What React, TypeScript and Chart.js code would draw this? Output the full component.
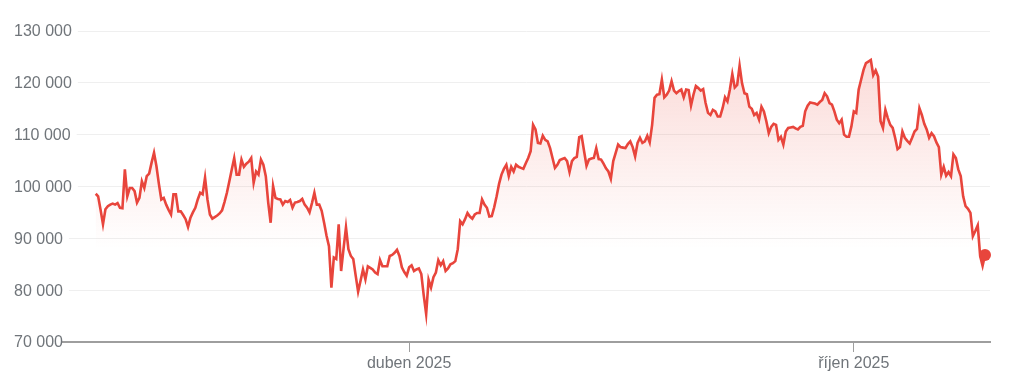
import React, { useEffect, useRef } from "react";
import { Chart, registerables } from "chart.js";

Chart.register(...registerables);

// Daily closing price, thousands of USD (day 0 = 23 Nov 2024)
const nov2024 = [98.6, 98.1, 95.5, 92.7, 95.6, 96.2, 96.5, 96.7];
const dec2024 = [
  96.5, 96.8, 95.9, 95.8, 103.3, 98.1, 99.7, 99.7, 99.1, 96.9, 97.8, 101.0, 99.7, 102.0, 102.5, 104.6,
  106.5, 103.9, 100.5, 97.5, 97.8, 96.5, 95.5, 94.6, 98.5, 98.5, 95.2, 95.2, 94.5, 93.7, 92.2,
];
const jan2025 = [
  94.0, 95.0, 95.9, 97.5, 98.8, 98.5, 101.7, 97.5, 94.6, 93.8, 94.1, 94.4, 94.8, 95.4, 97.0, 98.8,
  101.0, 103.3, 105.5, 102.3, 102.3, 105.2, 103.8, 104.4, 104.8, 105.5, 100.7, 102.9, 102.3, 105.2, 104.2,
];
const feb2025 = [
  102.0, 96.9, 93.0, 100.1, 97.8, 97.6, 97.5, 96.5, 97.2, 97.0, 97.4, 95.9, 96.9, 97.0, 97.2, 97.6,
  96.5, 95.9, 95.0, 96.8, 98.8, 96.5, 96.5, 95.3, 93.0, 90.5, 88.5, 80.5,
];
const mar2025 = [
  86.3, 86.0, 92.7, 83.7, 88.0, 92.1, 87.9, 86.6, 86.0, 82.8, 79.7, 81.8, 84.0, 82.1, 84.6, 84.3,
  84.0, 83.4, 83.1, 85.8, 84.6, 84.6, 84.6, 86.6, 86.8, 87.2, 87.8, 86.6, 84.4, 83.5, 82.8,
];
const apr2025 = [
  84.4, 84.8, 83.7, 84.0, 84.2, 83.1, 79.0, 75.4, 82.0, 80.5, 82.5, 83.4, 85.8, 84.8, 85.6, 83.7,
  84.2, 85.0, 85.2, 85.6, 87.9, 93.3, 92.7, 93.7, 94.9, 94.2, 93.8, 94.6, 94.9, 94.9,
];
const may2025 = [
  97.5, 96.5, 95.9, 94.2, 94.3, 96.0, 98.1, 100.5, 102.3, 103.4, 104.2, 102.0, 103.8, 102.9, 104.2, 103.8,
  103.6, 103.4, 104.5, 105.5, 106.8, 111.9, 111.0, 108.4, 108.3, 109.8, 109.0, 108.7, 107.4, 105.5, 103.6,
];
const jun2025 = [
  104.2, 105.1, 105.3, 105.5, 104.9, 102.8, 104.9, 105.5, 105.7, 109.5, 109.7, 106.8, 104.0, 105.2, 105.4,
  105.5, 107.4, 105.3, 105.2, 104.4, 103.5, 102.9, 101.5, 104.9, 106.5, 108.1, 107.6, 107.5, 107.4, 108.2,
];
const jul2025 = [
  108.7, 107.6, 105.8, 108.4, 109.4, 108.4, 108.7, 109.8, 108.5, 111.9, 117.1, 117.7, 117.8, 120.6, 117.2,
  117.7, 118.5, 120.3, 118.5, 118.0, 118.4, 118.7, 117.2, 118.7, 118.6, 115.6, 117.7, 119.4, 119.0, 118.5, 118.8,
];
const aug2025 = [
  116.1, 114.2, 113.8, 114.8, 114.5, 113.5, 113.5, 115.1, 117.2, 116.4, 118.7, 121.7, 119.1, 119.6, 123.3,
  119.9, 118.0, 117.8, 115.4, 115.0, 113.8, 114.2, 112.9, 115.4, 114.5, 112.6, 110.3, 111.5, 112.1, 111.9, 109.0,
];
const sep2025 = [
  109.6, 108.1, 110.6, 111.3, 111.4, 111.5, 111.2, 111.0, 111.5, 111.7, 114.5, 115.6, 116.2, 116.1, 116.0,
  115.8, 116.3, 116.7, 118.0, 117.4, 116.1, 115.8, 114.5, 112.9, 112.2, 112.9, 110.0, 109.6, 109.6, 111.6,
];
const oct2025 = [
  114.5, 114.2, 118.7, 120.6, 122.5, 123.8, 124.1, 124.4, 121.5, 122.4, 121.2, 112.6, 111.3, 114.8, 113.2,
  111.9, 111.3, 109.4, 107.2, 107.6, 110.6, 109.4, 108.8, 108.3, 109.4, 110.6, 111.1, 115.1, 113.8, 112.1, 111.0,
];
const nov2025 = [
  109.4, 110.3, 109.7, 108.5, 107.6, 102.3, 103.8, 102.1, 102.8, 102.0, 106.2, 105.5, 103.3, 102.0, 98.1,
  96.2, 95.7, 94.9, 90.4, 91.4, 92.5, 86.6, 84.7, 86.8,
];

const prices = [
  ...nov2024, ...dec2024, ...jan2025, ...feb2025, ...mar2025, ...apr2025,
  ...may2025, ...jun2025, ...jul2025, ...aug2025, ...sep2025, ...oct2025, ...nov2025,
];

// x-axis ticks (day index of 1 Apr 2025 and 1 Oct 2025)
const xTickDays = [129, 312];
const xTickLabels = ["duben 2025", "říjen 2025"];

// y-axis (thousands)
const yMin = 70;
const yMax = 130;
const yStep = 10;

const RED = "#e8453c";
const GREY_TEXT = "#70757a";
const FONT = "'Liberation Sans', Arial, sans-serif";

function fmt(v: number): string {
  return String(Math.round(v * 1000)).replace(/\B(?=(\d{3})+(?!\d))/g, " ");
}

// Draws the y labels left-aligned at the canvas edge, interrupting the gridline after the label.
const yLabelPlugin = {
  id: "yLabels",
  beforeDatasetsDraw(chart: any) {
    const { ctx } = chart;
    const y = chart.scales.y;
    const area = chart.chartArea;
    ctx.save();
    ctx.font = `16px ${FONT}`;
    ctx.textAlign = "left";
    ctx.textBaseline = "middle";
    y.ticks.forEach((t: any) => {
      const py = y.getPixelForValue(t.value);
      const text = fmt(t.value);
      const w = ctx.measureText(text).width;
      if (t.value !== yMin) {
        ctx.fillStyle = "#ffffff";
        ctx.fillRect(area.left, py - 2, 14 + w + 6 - area.left, 4);
      }
      ctx.fillStyle = GREY_TEXT;
      ctx.fillText(text, 14, py + 1);
    });
    ctx.restore();
  },
};

export default function App() {
  const ref = useRef<HTMLCanvasElement | null>(null);

  useEffect(() => {
    if (!ref.current) return;
    const n = prices.length;
    const chart = new Chart(ref.current, {
      type: "line",
      data: {
        datasets: [
          {
            data: prices.map((v, i) => ({ x: i, y: v })),
            borderColor: RED,
            borderWidth: 2.6,
            tension: 0,
            fill: "start",
            backgroundColor: (ctx: any) => {
              const { chart } = ctx;
              const area = chart.chartArea;
              if (!area) return "rgba(0,0,0,0)";
              const g = chart.ctx.createLinearGradient(0, area.top, 0, area.bottom);
              g.addColorStop(0, "rgba(234,67,53,0.22)");
              g.addColorStop(0.7, "rgba(234,67,53,0)");
              g.addColorStop(1, "rgba(234,67,53,0)");
              return g;
            },
            pointRadius: (ctx: any) => (ctx.dataIndex === n - 1 ? 6 : 0),
            pointHoverRadius: 0,
            pointBackgroundColor: RED,
            pointBorderWidth: 0,
            clip: false as any,
          },
        ],
      },
      options: {
        animation: false,
        responsive: false,
        events: [],
        layout: { padding: { left: 14, right: 33, top: 31, bottom: 0 } },
        plugins: { legend: { display: false }, tooltip: { enabled: false } },
        scales: {
          x: {
            type: "linear",
            min: -13.46,
            max: 368.05,
            afterBuildTicks: (scale: any) => {
              scale.ticks = xTickDays.map((v) => ({ value: v }));
            },
            afterFit: (scale: any) => {
              scale.height = 40;
            },
            ticks: {
              autoSkip: false,
              maxRotation: 0,
              color: GREY_TEXT,
              font: { family: FONT, size: 16 },
              padding: 2,
              callback: (_v: any, i: number) => xTickLabels[i],
            },
            grid: {
              drawOnChartArea: false,
              drawTicks: true,
              tickLength: 10,
              color: "#9e9e9e",
              lineWidth: 1,
            },
            border: { display: true, color: "#9e9e9e", width: 2 },
          },
          y: {
            type: "linear",
            min: yMin,
            max: yMax,
            afterFit: (scale: any) => {
              scale.width = 49;
            },
            ticks: {
              stepSize: yStep,
              display: false,
            },
            grid: { color: "#efefef", lineWidth: 1, drawTicks: false },
            border: { display: false },
          },
        },
      } as any,
      plugins: [yLabelPlugin],
    });
    return () => chart.destroy();
  }, []);

  return (
    <div style={{ position: "fixed", left: 0, top: 0, width: 1023, height: 382, background: "#fff" }}>
      <canvas ref={ref} width={1023} height={382} style={{ width: 1023, height: 382, display: "block" }} />
    </div>
  );
}
